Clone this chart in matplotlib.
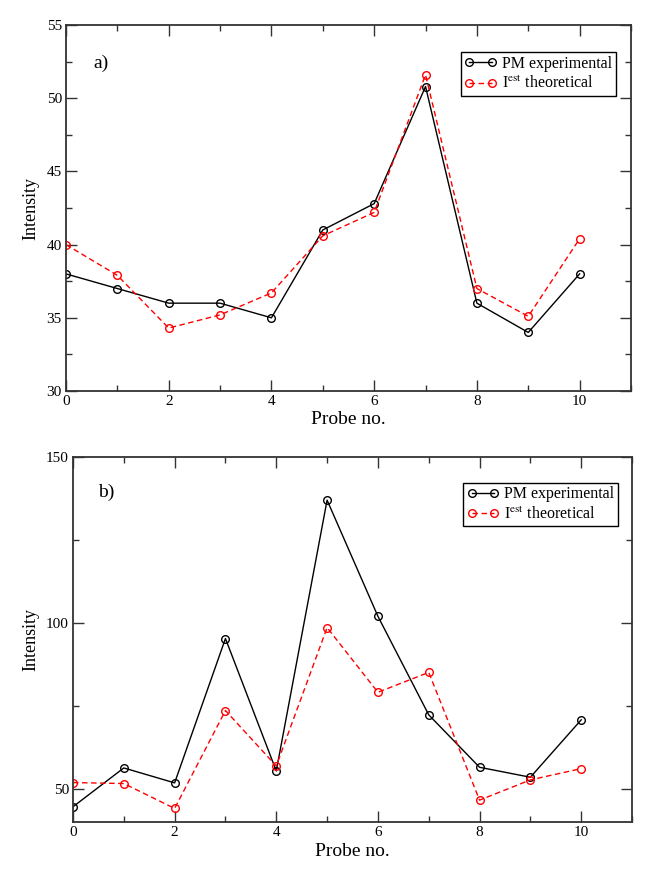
import matplotlib
matplotlib.use("Agg")
import matplotlib.pyplot as plt
from matplotlib.ticker import MultipleLocator

plt.rcParams['font.family'] = ['Liberation Serif', 'DejaVu Serif']
plt.rcParams['mathtext.fontset'] = 'stix'

probes = list(range(11))

pm_a = [38.0, 37.0, 36.0, 36.0, 35.0, 41.0, 42.8, 50.8, 36.0, 34.0, 38.0]
th_a = [40.0, 37.9, 34.3, 35.2, 36.7, 40.6, 42.2, 51.6, 37.0, 35.1, 40.4]

pm_b = [44.6, 56.3, 51.8, 95.3, 55.4, 137.0, 102.0, 72.3, 56.5, 53.5, 70.8]
th_b = [51.9, 51.6, 44.1, 73.6, 56.9, 98.6, 79.1, 85.1, 46.6, 52.7, 56.1]

label_pm = "PM experimental"
label_th = "I$^{\\mathrm{est}}$ theoretical"

fig = plt.figure(figsize=(6.54, 8.72), dpi=100)
ax1 = fig.add_axes([0.1009, 0.5516, 0.8639, 0.4197])
ax2 = fig.add_axes([0.1116, 0.0573, 0.8548, 0.4186])


def style(ax, ylim, ymaj, ymin_, tag, tagpos, legpos, xpad):
    ax.set_xlim(0, 11)
    ax.set_ylim(*ylim)
    ax.xaxis.set_major_locator(MultipleLocator(2))
    ax.xaxis.set_minor_locator(MultipleLocator(1))
    ax.yaxis.set_major_locator(MultipleLocator(ymaj))
    ax.yaxis.set_minor_locator(MultipleLocator(ymin_))
    ax.tick_params(which='both', direction='in', top=True, right=True,
                   color='#333333', width=1.0)
    ax.tick_params(which='major', length=8, labelsize=11, pad=3)
    ax.tick_params(which='minor', length=4.5)
    for s in ax.spines.values():
        s.set_linewidth(1.3)
        s.set_color('#333333')
    ax.set_xlabel("Probe no.", fontsize=14, labelpad=xpad)
    ax.set_ylabel("Intensity", fontsize=13, labelpad=5)
    ax.text(tagpos[0], tagpos[1], tag, transform=ax.transAxes, fontsize=14,
            ha='left', va='center')
    leg = ax.legend(loc='upper right', bbox_to_anchor=legpos, borderaxespad=0,
                    fancybox=False, edgecolor='black', framealpha=1,
                    fontsize=11.5, numpoints=2, handlelength=2.0,
                    handletextpad=0.35, borderpad=0.22, labelspacing=0.28)
    leg.get_frame().set_linewidth(1.0)


for ax, pm, th in ((ax1, pm_a, th_a), (ax2, pm_b, th_b)):
    ax.plot(probes, pm, color='black', lw=1.0, marker='o', ms=5.5,
            mfc='none', mec='black', mew=1.0, label=label_pm)
    ax.plot(probes, th, color='red', lw=1.0, ls=(0, (4, 2.5)), marker='o',
            ms=5.5, mfc='none', mec='red', mew=1.0, label=label_th)

style(ax1, (30, 55), 5, 2.5, "a)", (0.048, 0.896), (0.973, 0.926), 2)
style(ax2, (40, 150), 50, 25, "b)", (0.045, 0.904), (0.975, 0.929), 3)

fig.savefig("out.png", dpi=100)
